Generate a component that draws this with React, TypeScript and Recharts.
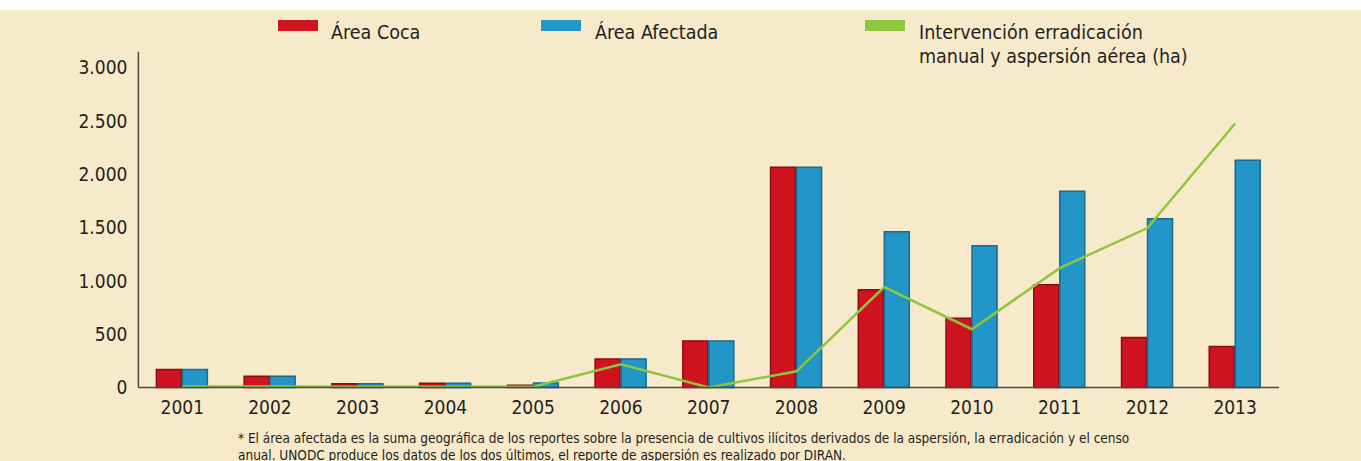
import { ComposedChart, Bar, Line, XAxis, YAxis, Legend } from "recharts";

const years = ["2001", "2002", "2003", "2004", "2005", "2006", "2007", "2008", "2009", "2010", "2011", "2012", "2013"];
const areaCoca = [170, 105, 36, 39, 22, 268, 437, 2066, 916, 650, 963, 468, 384];
const areaAfectada = [170, 105, 36, 39, 42, 268, 437, 2066, 1461, 1330, 1840, 1584, 2132];
const intervencion = [10, 10, 8, 8, 8, 218, 0, 152, 942, 547, 1120, 1496, 2476];
const yTicks = [0, 500, 1000, 1500, 2000, 2500, 3000];

const data = years.map((year, i) => ({
  year,
  coca: areaCoca[i],
  afectada: areaAfectada[i],
  intervencion: intervencion[i],
}));

const FONT = '"Liberation Sans Narrow", "DejaVu Sans Condensed", Arial, sans-serif';
const TEXT = "#231F20";
const BG = "#F7EACB";

// legend swatch / text positions as in the original layout
const legendPos: Record<string, { left: number; text: number }> = {
  coca: { left: 278, text: 331 },
  afectada: { left: 541, text: 595 },
  intervencion: { left: 865, text: 919 },
};

const fmt = (v: number) => v.toLocaleString("de-DE");

const renderLegend = (props: any) => {
  const { payload } = props;
  // height 0 so the legend does not push the plot down
  return (
    <div style={{ position: "relative", width: 1361, height: 0, fontFamily: FONT }}>
      {payload.map((p: any) => {
        const pos = legendPos[p.dataKey];
        return (
          <div key={p.dataKey}>
            <div
              style={{
                position: "absolute",
                left: pos.left,
                top: 20,
                width: 40,
                height: 11,
                background: p.color,
              }}
            />
            <div
              style={{
                position: "absolute",
                left: pos.text,
                top: 21,
                fontSize: 19.5,
                lineHeight: "24px",
                color: TEXT,
                textAlign: "left",
                whiteSpace: "pre",
              }}
            >
              {p.value}
            </div>
          </div>
        );
      })}
    </div>
  );
};

export default function App() {
  return (
    <div style={{ position: "absolute", left: 0, top: 0, width: 1361, height: 461, background: "#fff" }}>
      <div style={{ position: "absolute", left: 0, top: 10, width: 1361, height: 451, background: BG }} />
      <div style={{ position: "absolute", left: 0, top: 0 }}>
        <ComposedChart
          width={1361}
          height={461}
          data={data}
          margin={{ top: 51.7, right: 82, bottom: 43.5, left: 0 }}
          barSize={25}
          barGap={1}
        >
          <XAxis
            dataKey="year"
            height={30}
            axisLine={{ stroke: "#4a4a4a", strokeWidth: 1.5 }}
            tickLine={false}
            tickMargin={7}
            tick={{ fill: TEXT, fontSize: 19, fontFamily: FONT }}
          />
          <YAxis
            width={138.4}
            domain={[0, 3150]}
            ticks={yTicks}
            interval={0}
            tickFormatter={fmt}
            axisLine={{ stroke: "#4a4a4a", strokeWidth: 1.5 }}
            tickLine={false}
            tickMargin={5}
            tick={{ fill: TEXT, fontSize: 19, fontFamily: FONT }}
          />
          <Legend
            verticalAlign="top"
            content={renderLegend}
            wrapperStyle={{ top: 0, left: 0, width: 1361, height: 0 }}
          />
          <Bar dataKey="coca" name="Área Coca" fill="#D0141F" stroke="#8E0A10" strokeWidth={1.5} isAnimationActive={false} />
          <Bar dataKey="afectada" name="Área Afectada" fill="#2396C8" stroke="#1A6A90" strokeWidth={1.5} isAnimationActive={false} />
          <Line
            dataKey="intervencion"
            name={"Intervención erradicación\nmanual y aspersión aérea (ha)"}
            type="linear"
            stroke="#8DC63F"
            strokeWidth={2.5}
            dot={false}
            activeDot={false}
            legendType="rect"
            isAnimationActive={false}
          />
        </ComposedChart>
      </div>
      <div
        style={{
          position: "absolute",
          left: 238,
          top: 430,
          fontFamily: FONT,
          fontSize: 13.5,
          lineHeight: "17px",
          color: TEXT,
          whiteSpace: "nowrap",
        }}
      >
        <div>* El área afectada es la suma geográfica de los reportes sobre la presencia de cultivos ilícitos derivados de la aspersión, la erradicación y el censo</div>
        <div>anual. UNODC produce los datos de los dos últimos, el reporte de aspersión es realizado por DIRAN.</div>
      </div>
    </div>
  );
}
